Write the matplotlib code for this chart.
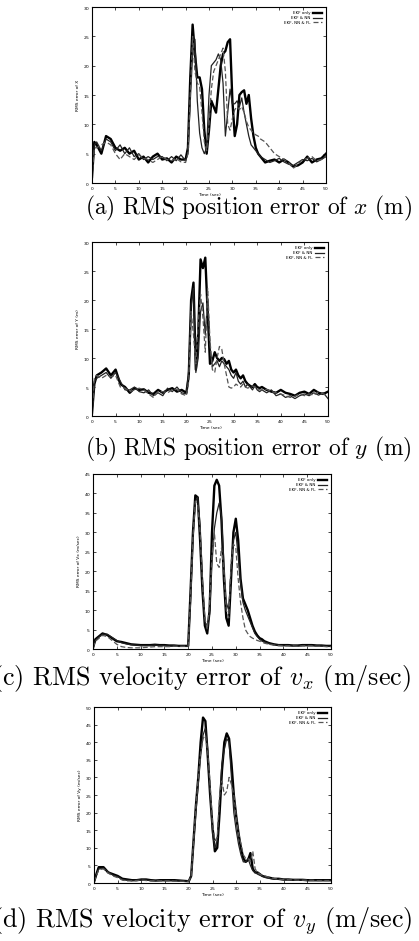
import matplotlib
matplotlib.use("Agg")
import matplotlib.pyplot as plt
import numpy as np

# time grid (sec): coarse outside the manoeuvre, 0.5 s inside it
t = np.r_[0, 0.5, np.arange(1, 21, 1), np.arange(20.5, 36, 0.5), np.arange(36, 51, 1)]

labels = ["EKF only", "EKF & NN", "EKF, NN & FL"]

# (a) RMS position error of x
ax_thick = [1.0, 7.0,
            6.5, 5.0, 8.0, 7.5, 6.0, 5.5, 6.0, 5.0, 5.5, 4.0, 4.5, 3.5, 4.5, 5.0, 4.0, 4.2, 3.5, 4.5, 4.0, 4.0,
            6, 18, 27, 22, 18, 18, 16, 9, 5, 9, 14, 13, 12, 16, 20, 22, 22.5, 24, 24.5, 14, 8, 10, 15, 15.5,
            15.8, 13.5, 15, 11, 8, 6, 5,
            4.5, 3.5, 3.8, 4.0, 3.5, 4.0, 3.5, 2.8, 3.0, 3.5, 4.5, 3.5, 4.0, 4.2, 5.0]
ax_thin = [1.0, 6.5,
           7.0, 5.5, 7.5, 7.0, 5.5, 6.5, 5.0, 6.0, 4.5, 5.0, 4.0, 4.5, 4.0, 4.5, 4.5, 3.8, 4.5, 3.8, 4.8, 3.8,
           5, 14, 22, 24.5, 14, 8.5, 6, 5, 6, 15, 20, 20.5, 21, 22, 21, 17, 8, 12, 16, 13.5, 13.5, 14, 13, 14.5,
           12, 10, 8, 6.5, 6, 5.5, 5,
           4.5, 4.0, 3.5, 3.8, 4.2, 3.6, 3.2, 3.0, 3.5, 4.0, 3.8, 4.2, 3.6, 4.0, 4.5]
ax_dash = [1.0, 6.0,
           6.0, 6.5, 7.0, 6.5, 5.0, 4.0, 5.0, 4.5, 4.0, 4.8, 4.2, 4.0, 3.5, 4.0, 4.5, 4.0, 3.8, 4.2, 3.6, 3.5,
           5, 15, 25, 19, 17, 16.5, 12, 7, 5.5, 10, 16, 19, 20, 21, 22, 23, 19, 10, 9, 11, 12.5, 13, 12.5, 13,
           12, 10.5, 9.5, 9, 8.5, 8.2, 8,
           7.5, 7.0, 6.0, 5.0, 4.5, 4.0, 3.5, 2.5, 3.2, 4.0, 4.2, 4.5, 3.8, 4.0, 4.5]

# (b) RMS position error of y
ay_thick = [0.5, 5.5,
            7.0, 7.5, 8.2, 7.0, 8.0, 5.5, 5.0, 4.0, 4.8, 4.5, 4.6, 4.0, 3.8, 4.5, 4.0, 4.5, 4.8, 4.2, 4.5, 4.0,
            7, 20, 23, 8, 14, 27, 25.5, 27.3, 18, 9, 9.5, 11, 10, 9.5, 10, 9.8, 9, 9.5, 8, 7.5, 8, 7, 6.5, 7,
            6, 5.5, 5.2, 5, 5.5, 5, 4.8,
            5.0, 4.5, 4.2, 4.0, 4.5, 4.0, 3.8, 3.5, 4.0, 4.2, 3.8, 4.5, 4.0, 3.8, 4.2]
ay_thin = [0.5, 6.0,
           6.5, 7.0, 7.5, 6.5, 7.5, 6.0, 4.5, 4.5, 5.0, 4.2, 4.0, 4.5, 3.5, 4.0, 3.5, 4.8, 4.2, 5.0, 4.0, 3.8,
           8, 19, 22, 7.5, 10, 18, 19.5, 14, 20, 12, 8.5, 9, 9.5, 8.5, 9.5, 9, 8.5, 8, 7, 6.5, 7.5, 6, 5.5, 6,
           5, 5.5, 5, 4.5, 5.2, 4.5, 4.2,
           4.5, 4.0, 4.5, 3.5, 3.8, 3.2, 3.5, 3.0, 3.5, 3.8, 3.5, 4.0, 3.6, 4.0, 3.0]
ay_dash = [0.5, 6.5,
           7.0, 6.5, 7.0, 6.8, 7.0, 5.0, 4.8, 4.2, 4.5, 4.8, 4.5, 3.8, 3.2, 4.2, 4.2, 4.0, 4.5, 4.6, 3.8, 3.5,
           6, 18, 14, 9, 16, 21, 17, 11, 22, 13, 8, 7.5, 10, 12, 11.5, 9, 7, 5, 4.8, 5, 5.5, 5.2, 5, 5.5,
           5, 4.8, 5, 5.2, 5, 4.8, 4.5,
           4.5, 4.6, 4.2, 4.0, 3.8, 3.5, 3.2, 3.4, 3.8, 3.5, 3.8, 3.6, 4.2, 3.8, 3.5]

# (c) RMS velocity error of vx
vx_thick = [0.3, 2.5,
            3.0, 4.0, 3.6, 2.8, 2.0, 1.8, 1.5, 1.2, 1.1, 1.0, 1.0, 1.0, 1.1, 1.0, 1.0, 0.9, 0.9, 0.8, 0.8, 0.8,
            15, 30, 39.5, 39, 28, 15, 6, 4, 10, 30, 42, 43.5, 42, 33, 18, 8, 6, 18, 30, 33.5, 28, 18, 13, 11.5,
            10, 8, 6, 4.5, 3.5, 2.8, 2.5,
            2.0, 1.5, 1.2, 1.0, 1.0, 1.0, 0.9, 0.9, 1.0, 1.0, 1.0, 0.9, 0.9, 0.8, 0.8]
vx_thin = [0.3, 2.2,
           2.8, 3.8, 3.8, 3.0, 2.2, 1.6, 1.3, 1.1, 1.0, 0.9, 0.9, 0.9, 1.0, 0.9, 0.9, 0.8, 0.8, 0.7, 0.7, 0.7,
           12, 28, 38, 39, 32, 18, 7, 6, 9, 22, 31, 35, 37.5, 34, 22, 12, 10, 20, 28, 30, 24, 17, 12, 10,
           8.5, 7, 5.5, 4, 3.2, 2.5, 2,
           1.8, 1.4, 1.1, 1.0, 0.9, 0.9, 0.8, 0.8, 0.9, 0.9, 0.9, 0.8, 0.8, 0.7, 0.7]
vx_dash = [0.3, 2.0,
           2.5, 3.5, 3.2, 2.2, 1.2, 0.6, 0.4, 0.3, 0.3, 0.3, 0.4, 0.5, 0.6, 0.6, 0.6, 0.6, 0.7, 0.7, 0.7, 0.7,
           14, 29, 38, 37, 30, 17, 8, 5, 12, 24, 30, 22, 21, 26, 20, 10, 8, 22, 27, 26, 18, 12, 8, 5,
           4, 3.2, 2.8, 2.5, 2.2, 2, 1.8,
           1.5, 1.2, 1.0, 0.9, 0.8, 0.8, 0.8, 0.7, 0.8, 0.8, 0.8, 0.7, 0.7, 0.6, 0.6]

# (d) RMS velocity error of vy
vy_thick = [0.3, 2.5,
            4.5, 4.5, 3.0, 2.5, 2.0, 1.2, 1.0, 0.8, 0.8, 1.0, 1.0, 0.8, 0.7, 0.8, 0.8, 0.8, 0.8, 0.7, 0.6, 0.5,
            2, 12, 22, 30, 40, 47, 46, 36, 25, 16, 9, 10, 20, 32, 40, 42.5, 41, 34, 25, 19, 14, 10, 7, 6,
            6.5, 8.5, 4, 3, 3, 2.5, 2,
            1.8, 1.5, 1.2, 1.2, 1.0, 1.0, 0.9, 0.9, 0.9, 0.8, 0.8, 0.8, 0.8, 0.8, 0.8]
vy_thin = [0.3, 2.2,
           4.0, 4.2, 3.2, 2.2, 1.8, 1.0, 0.8, 0.7, 0.8, 0.9, 0.8, 0.7, 0.7, 0.7, 0.7, 0.7, 0.6, 0.6, 0.5, 0.5,
           2, 11, 20, 28, 36, 42, 44, 38, 26, 14, 10, 12, 24, 34, 38, 41, 40, 30, 20, 15, 11, 8, 6, 6,
           7, 5, 3.5, 3, 2.5, 2.2, 2,
           1.6, 1.3, 1.1, 1.0, 0.9, 0.9, 0.8, 0.8, 0.8, 0.7, 0.7, 0.7, 0.7, 0.7, 0.7]
vy_dash = [0.3, 2.0,
           3.8, 4.0, 2.8, 2.0, 1.5, 0.8, 0.6, 0.6, 0.7, 0.8, 0.7, 0.6, 0.6, 0.6, 0.6, 0.6, 0.5, 0.5, 0.5, 0.5,
           2, 12, 22, 30, 37, 41, 42, 37, 28, 17, 12, 13, 25, 29, 25, 26, 30, 28, 25, 19, 14, 11, 8, 7,
           7, 6, 9, 4, 3, 2.5, 2.2,
           2.0, 1.6, 1.3, 1.1, 1.0, 0.9, 0.9, 0.8, 0.8, 0.8, 0.8, 0.7, 0.7, 0.7, 0.7]

panels = [
    ((ax_thick, ax_thin, ax_dash), 30, 5, "RMS error of X",
     r"(a) RMS position error of $x$ (m)"),
    ((ay_thick, ay_thin, ay_dash), 30, 5, "RMS error of Y (m)",
     r"(b) RMS position error of $y$ (m)"),
    ((vx_thick, vx_thin, vx_dash), 45, 5, "RMS error of Vx (m/sec)",
     r"(c) RMS velocity error of $v_x$ (m/sec)"),
    ((vy_thick, vy_thin, vy_dash), 50, 5, "RMS error of Vy (m/sec)",
     r"(d) RMS velocity error of $v_y$ (m/sec)"),
]

plt.rcParams["mathtext.fontset"] = "cm"
plt.rcParams["axes.formatter.use_mathtext"] = True

W, H = 419, 941
fig = plt.figure(figsize=(W / 100, H / 100), dpi=100)

# axes boxes in pixels: left, top, right, bottom
boxes = [(92, 7, 326, 183), (92, 242, 328, 416), (93, 474, 331, 649), (94, 707, 331, 883)]
# caption anchors: x, y(center), font size (the scan crops the left edge of c and d)
captions = [(85, 208, 16.8), (85, 449, 16.8), (-8, 679, 18.8), (-8, 921, 18.8)]

styles = [dict(color="black", lw=1.7, ls="-"),
          dict(color="#222222", lw=0.9, ls="-"),
          dict(color="#555555", lw=0.9, ls=(0, (4, 2)))]

for (series, ymax, ystep, ylabel, caption), box, cap in zip(panels, boxes, captions):
    l, top, r, b = box
    ax = fig.add_axes([l / W, 1 - b / H, (r - l) / W, (b - top) / H])
    for s, lab, st in zip(series, labels, styles):
        ax.plot(t, s, label=lab, **st)
    ax.set_xlim(0, 50)
    ax.set_ylim(0, ymax)
    ax.set_xticks(np.arange(0, 51, 5))
    ax.set_yticks(np.arange(0, ymax + 1, ystep))
    ax.tick_params(direction="in", top=True, right=True, labelsize=3.2, length=2, width=0.5, pad=1.5)
    for sp in ax.spines.values():
        sp.set_linewidth(0.8)
    ax.set_xlabel("Time (sec)", fontsize=3.2, labelpad=0.3)
    ax.set_ylabel(ylabel, fontsize=3.2, labelpad=2)
    ax.legend(loc="upper right", fontsize=3, frameon=False, markerfirst=False,
              handlelength=2.2, handletextpad=0.6, labelspacing=0.2, borderaxespad=0.6)
    fig.text(cap[0] / W, 1 - cap[1] / H, caption, ha="left", va="center",
             fontsize=cap[2], family="cmr10")

fig.savefig("out.png", dpi=100)
